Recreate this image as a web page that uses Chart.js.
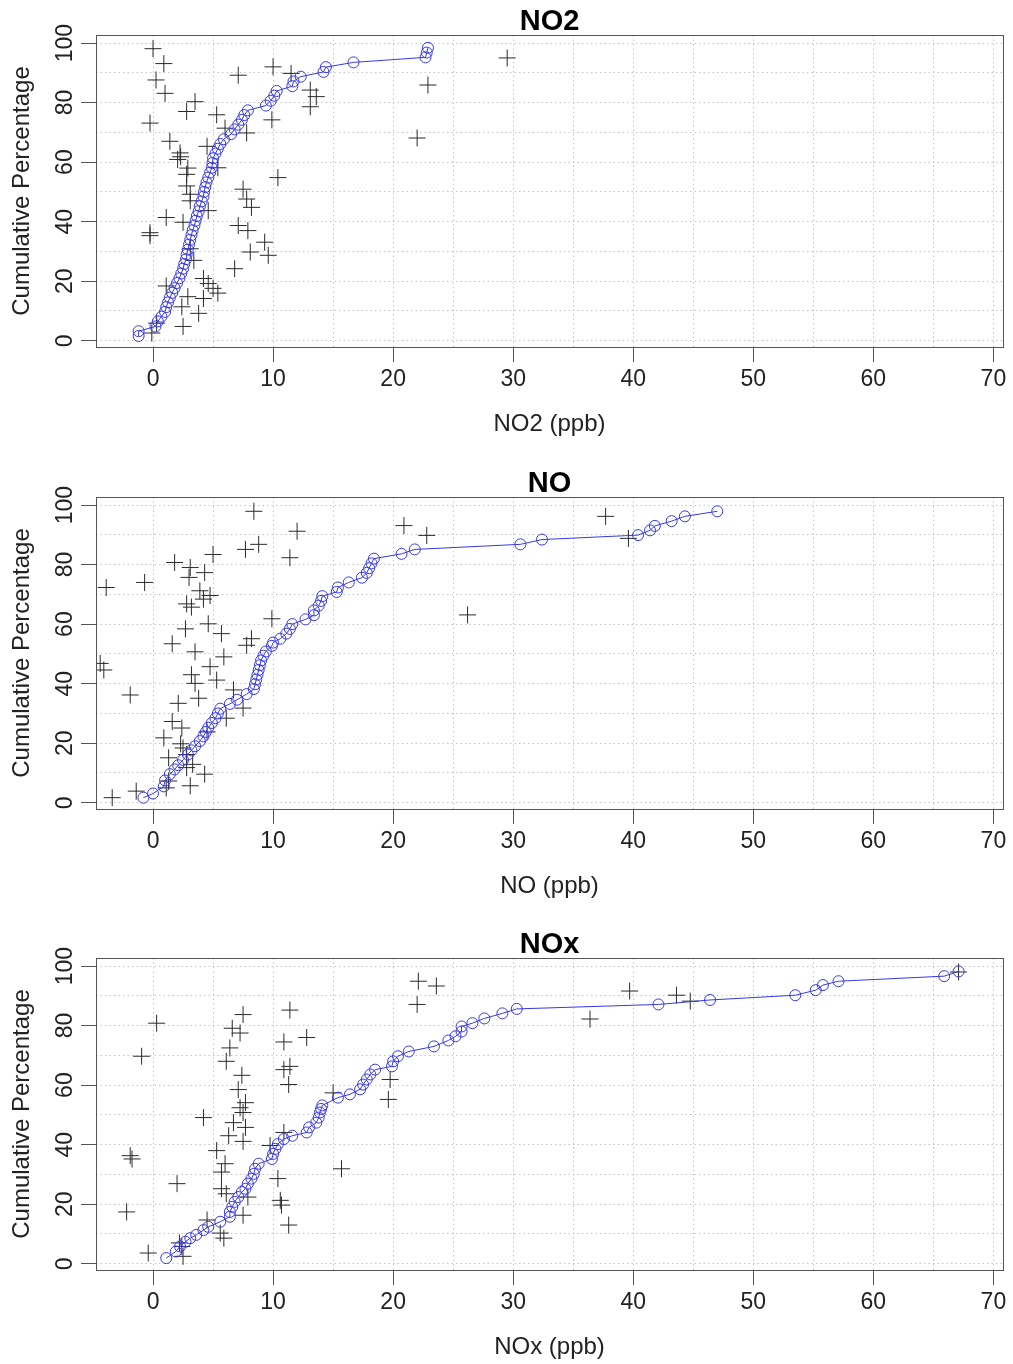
<!DOCTYPE html>
<html>
<head>
<meta charset="utf-8">
<title>NO2 / NO / NOx - Cumulative Percentage</title>
<script src="https://cdn.jsdelivr.net/npm/chart.js@4.4.1/dist/chart.umd.min.js"></script>
<style>
  html, body { margin: 0; padding: 0; background: #fff; }
  body { width: 1013px; height: 1364px; overflow: hidden; position: relative; }
  .panel { position: absolute; left: 0; width: 1013px; height: 462px; }
  .panel canvas { display: block; }
</style>
</head>
<body>
<div class="panel" style="top:0"><canvas id="g-no2" width="1013" height="462"></canvas></div>
<div class="panel" style="top:462px"><canvas id="g-no" width="1013" height="462"></canvas></div>
<div class="panel" style="top:923px"><canvas id="g-nox" width="1013" height="462"></canvas></div>
<script>
/* Cumulative percentage plots - NO2, NO, NOx (blue circles = observed ranks, crosses = paired values) */

// axes
var xTicks = [0, 5, 10, 15, 20, 25, 30, 35, 40, 45, 50, 55, 60, 65, 70];
var yTicks = [0, 10, 20, 30, 40, 50, 60, 70, 80, 90, 100];
var yLabels = [0, 20, 40, 60, 80, 100];

// NO2
var no2CircX = [-1.2, -1.2, 0.2, 0.4, 0.7, 1.0, 1.1, 1.25, 1.4, 1.6, 1.8, 2.0, 2.2, 2.35, 2.5, 2.6, 2.75, 2.8, 2.9, 3.0,
  3.1, 3.2, 3.3, 3.45, 3.55, 3.65, 3.8, 3.9, 4.05, 4.2, 4.25, 4.35, 4.45, 4.6, 4.75, 4.9, 4.95, 5.0, 5.2, 5.4,
  5.6, 5.9, 6.5, 6.8, 7.1, 7.4, 7.6, 7.9, 9.4, 9.8, 10.1, 10.3, 11.6, 11.7, 12.3, 14.2, 14.4, 16.7, 22.7, 22.8, 22.9];
var no2CircY = [1.6, 3.2, 4.8, 6.5, 8.1, 9.7, 11.3, 12.9, 14.5, 16.1, 17.7, 19.4, 21.0, 22.6, 24.2, 25.8, 27.4, 29.0, 30.6, 32.3,
  33.9, 35.5, 37.1, 38.7, 40.3, 41.9, 43.5, 45.2, 46.8, 48.4, 50.0, 51.6, 53.2, 54.8, 56.5, 58.1, 59.7, 61.3, 62.9, 64.5,
  66.1, 67.7, 69.4, 71.0, 72.6, 74.2, 75.8, 77.4, 79.0, 80.6, 82.3, 83.9, 85.5, 87.1, 88.7, 90.3, 91.9, 93.5, 95.2, 96.8, 98.4];
var no2CrossX = [0.0, 0.9, 0.25, 1.0, -0.25, 2.8, 3.5, 7.1, 10.0, 11.5, 13.1, 13.6, 13.1, 9.9, 5.3, 6.0, 7.8, 1.4, 4.5, 2.25,
  2.05, 2.3, 2.8, 5.4, 2.8, 3.1, 4.6, 1.1, 2.5, -0.25, -0.25, 10.4, 7.5, 7.8, 8.2, 7.1, 7.9, 9.3, 9.6, 8.1,
  6.8, 3.1, 3.4, 4.2, 4.6, 5.0, 5.4, 2.9, 4.2, 2.4, 3.8, 2.5, -0.1, 0.3, 1.1, 22.0, 22.9, 29.5, 3.1, 2.9];
var no2CrossY = [98.1, 93.1, 87.6, 83.1, 73.1, 77.0, 80.3, 89.2, 92.0, 89.8, 84.2, 82.0, 78.6, 74.2, 75.9, 71.4, 69.8, 67.0, 65.3, 63.1,
  60.9, 61.8, 55.9, 58.1, 52.0, 47.0, 43.7, 41.4, 39.8, 35.3, 36.3, 54.8, 50.9, 47.6, 44.8, 38.7, 37.0, 33.1, 28.7, 29.8,
  24.2, 30.9, 27.0, 20.9, 19.2, 17.6, 16.0, 14.8, 14.2, 11.4, 9.2, 4.8, 2.6, 5.9, 18.4, 68.1, 85.9, 95.0, 49.2, 58.0];

// NO
var noCircX = [-0.8, 0.0, 0.9, 1.0, 1.4, 1.8, 2.1, 2.5, 2.9, 3.2, 3.5, 3.9, 4.2, 4.4, 4.6, 4.9, 5.2, 5.4, 5.6, 6.4,
  7.0, 7.8, 8.4, 8.5, 8.6, 8.7, 8.8, 8.9, 9.0, 9.2, 9.4, 9.9, 10.0, 10.6, 11.1, 11.4, 11.6, 12.7, 13.4, 13.4,
  13.8, 14.0, 14.1, 15.3, 15.4, 16.3, 17.4, 17.8, 18.0, 18.2, 18.4, 20.7, 21.8, 30.6, 32.4, 40.4, 41.4, 41.8, 43.2, 44.3, 47.0];
var noCircY = [1.7, 3.1, 5.5, 7.5, 9.6, 11.2, 12.6, 14.4, 16.2, 17.6, 19.0, 20.7, 22.3, 23.8, 25.2, 26.8, 28.4, 30.0, 31.6, 33.2,
  34.6, 36.5, 38.2, 39.8, 41.4, 43.0, 44.6, 46.2, 47.8, 49.4, 50.8, 52.7, 53.8, 55.1, 56.8, 58.4, 60.0, 61.6, 63.0, 64.6,
  66.2, 67.8, 69.4, 70.8, 72.3, 74.0, 75.6, 77.2, 78.8, 80.4, 82.0, 83.6, 85.1, 86.8, 88.4, 89.9, 91.5, 93.0, 94.6, 96.2, 97.9];
var noCrossX = [8.4, 12.0, 20.9, 7.7, 8.8, 5.0, 11.4, 1.8, 3.1, 4.3, 3.0, -0.7, -3.9, 3.9, 4.75, 4.2, 2.8, 3.2, 9.9, 4.6,
  2.7, 5.7, 8.2, 1.6, 7.8, 3.5, 5.9, -4.4, -4.1, 4.75, 3.2, 5.3, 3.5, -1.9, 6.7, 3.8, 2.1, 7.5, 1.6, 2.4,
  6.1, 0.9, 2.5, 2.8, 1.3, 4.5, 2.8, 4.3, 1.3, 3.1, -1.4, -3.4, 22.8, 26.2, 37.7, 39.6, 2.3, 1.1, 3.3];
var noCrossY = [97.9, 91.2, 93.1, 85.1, 86.8, 83.4, 82.3, 80.7, 79.0, 77.3, 75.7, 74.0, 72.3, 71.2, 69.6, 68.4, 66.8, 65.7, 61.8, 60.1,
  58.4, 56.8, 55.1, 53.4, 52.9, 50.7, 49.0, 46.8, 44.6, 45.7, 43.0, 41.2, 40.1, 36.2, 37.9, 35.1, 33.4, 31.8, 27.3, 25.1,
  28.4, 21.8, 18.4, 16.2, 15.1, 23.8, 11.8, 9.6, 7.3, 5.7, 3.9, 1.7, 89.8, 63.1, 96.2, 88.8, 19.8, 5.0, 12.9];

// NOx
var noxCircX = [1.1, 1.9, 2.25, 2.7, 3.1, 3.6, 4.2, 4.6, 5.6, 6.4, 6.4, 6.6, 6.8, 7.1, 7.4, 7.7, 7.9, 8.2, 8.4, 8.5,
  8.8, 9.9, 10.0, 10.2, 10.4, 10.9, 11.6, 12.8, 13.0, 13.6, 13.8, 13.9, 14.0, 14.1, 15.4, 16.4, 17.25, 17.5, 17.8, 18.1,
  18.5, 19.9, 20.0, 20.4, 21.3, 23.4, 24.6, 25.2, 25.7, 25.7, 26.6, 27.6, 29.1, 30.3, 42.1, 46.4, 53.5, 55.2, 55.8, 57.1, 65.9, 67.1];
var noxCircY = [1.9, 4.1, 5.8, 7.4, 8.6, 9.7, 11.3, 12.4, 14.1, 15.8, 17.4, 19.1, 20.8, 22.4, 24.1, 25.2, 26.9, 28.6, 30.2, 31.9,
  33.6, 35.2, 36.9, 38.6, 40.2, 41.9, 43.0, 44.1, 45.8, 47.4, 49.1, 50.8, 52.0, 53.2, 55.8, 56.9, 58.6, 60.2, 61.9, 63.6,
  65.2, 66.3, 68.0, 69.7, 71.3, 73.0, 75.0, 76.4, 78.0, 79.7, 80.8, 82.4, 84.1, 85.6, 87.1, 88.6, 90.2, 91.9, 93.6, 94.9, 96.6, 98.2];
var noxCrossX = [22.1, 23.6, 22.0, 11.4, 7.5, 0.3, 6.6, 7.25, 12.8, 10.9, 6.4, -0.95, 6.1, 10.9, 11.4, 7.4, 11.3, 7.1, 19.75, 19.6,
  15.0, 7.7, 7.25, 7.5, 4.2, 6.7, 7.7, 6.3, 7.5, 10.9, 9.75, 5.3, 6.0, 5.7, -1.9, -1.75, 2.0, 10.4, 15.7, 5.7,
  7.9, 10.6, 10.7, 7.5, 11.3, -2.2, 4.5, 5.6, 5.9, -0.4, 2.4, 2.5, 39.7, 36.4, 43.6, 44.75, 67.1, 6.1, 2.2];
var noxCrossY = [94.9, 93.3, 87.1, 85.2, 83.7, 80.8, 79.1, 77.5, 76.0, 74.5, 72.5, 69.7, 68.0, 65.2, 66.3, 63.3, 60.2, 58.5, 61.9, 55.2,
  57.4, 54.1, 52.4, 50.8, 49.1, 47.4, 45.8, 43.0, 41.1, 44.1, 39.7, 38.0, 33.6, 30.8, 36.3, 35.2, 26.9, 28.6, 31.9, 25.2,
  22.4, 21.3, 19.7, 16.3, 13.0, 17.4, 14.7, 10.3, 8.6, 3.6, 5.8, 2.5, 91.6, 82.2, 90.2, 88.2, 98.0, 23.5, 7.0];

var POLICE = "'Liberation Sans', Arial, Helvetica, sans-serif";
var BLEU = "rgb(55,55,235)", NOIR = "#2a2a2a", GRILLE = "#c4c4c4";

Chart.defaults.font.family = POLICE;

function pts(xs, ys) { return xs.map(function (x, i) { return { x: x, y: ys[i] }; }); }

// frame + rotated y labels, placed with the chart's own y scale
var cadre = {
  id: "cadre",
  afterDraw: function (chart) {
    var ctx = chart.ctx, a = chart.chartArea, s = chart.scales.y;
    ctx.save();
    ctx.strokeStyle = "#555"; ctx.lineWidth = 1;
    ctx.strokeRect(Math.round(a.left) + 0.5, Math.round(a.top) + 0.5, Math.round(a.right - a.left), Math.round(a.bottom - a.top));
    ctx.font = "23px " + POLICE; ctx.fillStyle = "#222";
    ctx.textAlign = "center"; ctx.textBaseline = "middle";
    yLabels.forEach(function (v) {
      ctx.save();
      ctx.translate(66, s.getPixelForValue(v));
      ctx.rotate(-Math.PI / 2);
      ctx.fillText(String(v), 0, 0);
      ctx.restore();
    });
    ctx.restore();
  }
};

function panneau(id, titre, axeX, cx, cy, px, py) {
  new Chart(document.getElementById(id), {
    type: "scatter",
    data: {
      datasets: [
        { data: pts(cx, cy), showLine: true, borderColor: BLEU, borderWidth: 1, tension: 0,
          pointStyle: "circle", pointRadius: 5.5, pointBorderColor: BLEU, pointBackgroundColor: "rgba(0,0,0,0)", pointBorderWidth: 1, order: 1 },
        { data: pts(px, py), showLine: false, pointStyle: "cross", pointRadius: 8.5,
          pointBorderColor: NOIR, pointBorderWidth: 1, order: 2 }
      ]
    },
    options: {
      responsive: false, animation: false, events: [],
      layout: { padding: { top: 0, right: 10, bottom: 0, left: 0 } },
      plugins: {
        legend: { display: false }, tooltip: { enabled: false },
        title: { display: true, text: titre, fullSize: false, color: "#000",
          font: { size: 29, weight: "bold", lineHeight: 0.9 }, padding: { top: 8.9, bottom: 0 } }
      },
      scales: {
        x: {
          type: "linear", min: -4.75, max: 70.8,
          afterBuildTicks: function (s) { s.ticks = xTicks.map(function (v) { return { value: v }; }); },
          afterFit: function (s) { s.height = 115; },
          ticks: { autoSkip: false, maxRotation: 0, padding: 4, color: "#222", font: { size: 23 },
            callback: function (v) { return v % 10 === 0 ? String(v) : ""; } },
          grid: { color: GRILLE, lineWidth: 1, tickLength: 15, tickBorderDash: [],
            tickColor: function (c) { return c.tick && c.tick.value % 10 === 0 ? "#555" : "rgba(0,0,0,0)"; } },
          border: { display: false, dash: [1.5, 3] },
          title: { display: true, text: axeX, color: "#222", font: { size: 24 }, padding: { top: 0, bottom: 23.6 } }
        },
        y: {
          type: "linear", min: -2.1, max: 102.7,
          afterBuildTicks: function (s) { s.ticks = yTicks.map(function (v) { return { value: v }; }); },
          afterFit: function (s) { s.width = 96; },
          ticks: { callback: function () { return ""; } },
          grid: { color: GRILLE, lineWidth: 1, tickLength: 15, tickBorderDash: [],
            tickColor: function (c) { return c.tick && c.tick.value % 20 === 0 ? "#555" : "rgba(0,0,0,0)"; } },
          border: { display: false, dash: [1.5, 3] },
          title: { display: true, text: "Cumulative Percentage", color: "#222", font: { size: 24 }, padding: { top: 8, bottom: 0 } }
        }
      }
    },
    plugins: [cadre]
  });
}

panneau("g-no2", "NO2", "NO2 (ppb)", no2CircX, no2CircY, no2CrossX, no2CrossY);
panneau("g-no", "NO", "NO (ppb)", noCircX, noCircY, noCrossX, noCrossY);
panneau("g-nox", "NOx", "NOx (ppb)", noxCircX, noxCircY, noxCrossX, noxCrossY);
</script>
</body>
</html>
